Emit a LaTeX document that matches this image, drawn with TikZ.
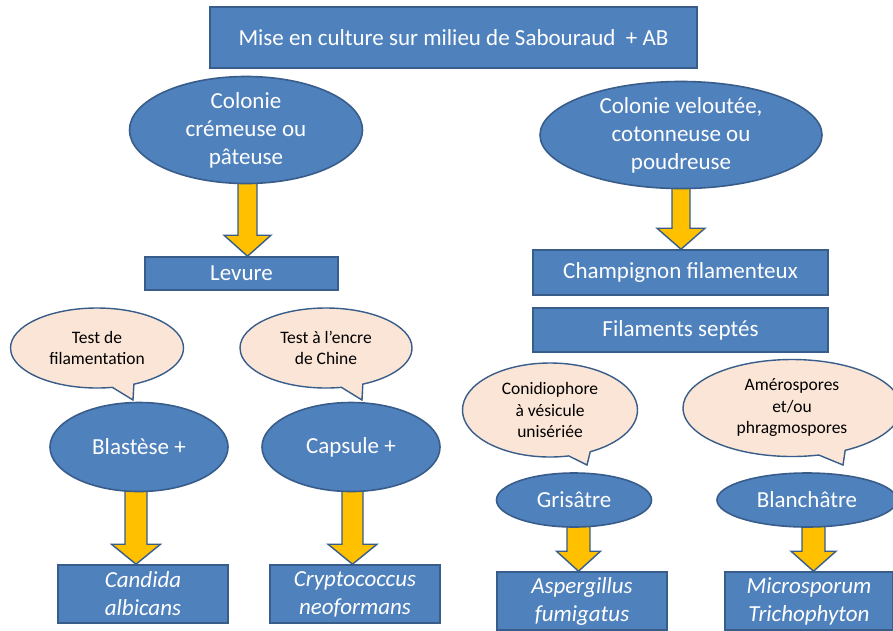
\documentclass[tikz,border=0pt]{standalone}
\usepackage{fontspec}
\setmainfont{Carlito}
\usetikzlibrary{shapes.geometric,shapes.callouts,calc}
\pgfdeclarelayer{bg}
\pgfsetlayers{bg,main}
\definecolor{bfill}{HTML}{4F81BD}
\definecolor{bdraw}{HTML}{385D8A}
\definecolor{cfill}{HTML}{FBE5D6}
\definecolor{afill}{HTML}{FFC000}
\tikzset{
 bigtext/.style={font=\fontsize{23}{28}\selectfont},
 box/.style={rectangle, draw=bdraw, fill=bfill, line width=1.6pt, text=white, inner sep=0pt, align=center, bigtext},
 itbox/.style={box, font=\fontsize{23}{28}\selectfont\itshape},
 ell/.style={ellipse, draw=bdraw, fill=bfill, line width=1.6pt, text=white, inner sep=0pt, align=center, bigtext},
 bubble/.style={ellipse callout, draw=bdraw, fill=cfill, line width=1.4pt, text=black, inner sep=0pt, align=center, font=\fontsize{17.5}{21.5}\selectfont},
 yarrow/.style={draw=bdraw, fill=afill, line width=1.4pt, line join=miter},
}
% #1 from, #2 to, #3 dx, #4 shaft half width, #5 head half width, #6 head length
\newcommand\blockarrow[6]{%
\begin{pgfonlayer}{bg}
\filldraw[yarrow] let \p1=(#1.center), \p2=(#2.north) in
 ({\x2+(#3)-(#4)},\y1) -- ({\x2+(#3)-(#4)},{\y2+(#6)}) -- ({\x2+(#3)-(#5)},{\y2+(#6)}) -- ({\x2+(#3)},\y2)
 -- ({\x2+(#3)+(#5)},{\y2+(#6)}) -- ({\x2+(#3)+(#4)},{\y2+(#6)}) -- ({\x2+(#3)+(#4)},\y1) -- cycle;
\end{pgfonlayer}}
\begin{document}
\begin{tikzpicture}[x=1pt,y=-1pt]
\useasboundingbox (0,0) rectangle (893,630);
\begin{pgfonlayer}{bg}
\fill[white] (0,0) rectangle (893,630);
\end{pgfonlayer}

\node[box, minimum width=487pt, minimum height=61pt] (top) at (453.5,37.5) {Mise en culture sur milieu de Sabouraud\ \ + AB};

\node[ell, minimum width=233pt, minimum height=94pt] (col1) at (246,130) {Colonie\\crémeuse ou\\pâteuse};
\node[ell, minimum width=282pt, minimum height=94pt] (col2) at (681,135) {Colonie veloutée,\\cotonneuse ou\\poudreuse};

\node[box, minimum width=193pt, minimum height=33pt] (lev) at (241.5,273.5) {Levure};
\node[box, minimum width=295pt, minimum height=45pt] (champ) at (680.5,272.5) {Champignon filamenteux};
\node[box, minimum width=295pt, minimum height=44pt] (filam) at (680.5,330) {Filaments septés};

\node[bubble, minimum width=173pt, minimum height=80pt, callout absolute pointer={(133,400)}] (b1) at (97,348) {Test de\\filamentation};
\node[bubble, minimum width=172pt, minimum height=80pt, callout absolute pointer={(362,400)}] (b2) at (326,348) {Test à l’encre\\de Chine};
\node[bubble, minimum width=175pt, minimum height=94pt, callout absolute pointer={(587,465)}] (b3) at (550,410) {Conidiophore\\à vésicule\\unisériée};
\node[bubble, minimum width=218pt, minimum height=97pt, callout absolute pointer={(843,465)}] (b4) at (792,408) {Amérospores\\et/ou\\phragmospores};

\node[ell, minimum width=178pt, minimum height=89pt] (blast) at (139,447) {Blastèse +};
\node[ell, minimum width=178pt, minimum height=89pt] (caps) at (351,447) {Capsule +};
\node[ell, minimum width=155pt, minimum height=54pt] (gris) at (574,500) {Grisâtre};
\node[ell, minimum width=180pt, minimum height=54pt] (blanc) at (807,500) {Blanchâtre};

\node[itbox, minimum width=170pt, minimum height=58pt] (cand) at (143,594) {Candida\\albicans};
\node[itbox, minimum width=170pt, minimum height=58pt] (crypto) at (355,594) {Cryptococcus\\neoformans};
\node[itbox, minimum width=170pt, minimum height=58pt] (asperg) at (582,601) {Aspergillus\\fumigatus};
\node[itbox, minimum width=168pt, minimum height=58pt] (micro) at (809,601) {Microsporum\\Trichophyton};

\blockarrow{col1}{lev}{6pt}{9.5pt}{23.5pt}{21pt}
\blockarrow{col2}{champ}{0.5pt}{9pt}{24pt}{21pt}
\blockarrow{blast}{cand}{-7pt}{11pt}{24.5pt}{20pt}
\blockarrow{caps}{crypto}{-2.5pt}{10.5pt}{24.5pt}{20pt}
\blockarrow{gris}{asperg}{-3.5pt}{11.5pt}{22pt}{20pt}
\blockarrow{blanc}{micro}{4.5pt}{11.5pt}{22.5pt}{20pt}
\end{tikzpicture}
\end{document}
